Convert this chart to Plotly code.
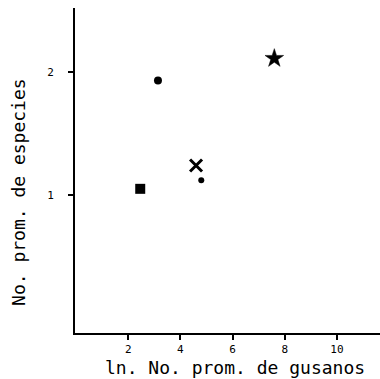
import plotly.graph_objects as go

# Data
x_vals = [3.14, 7.6, 4.6, 4.8, 2.46]
y_vals = [1.93, 2.11, 1.24, 1.12, 1.05]
x_ticks = [2, 4, 6, 8, 10]
x_tick_labels = ["2", "4", "6", "8", "10"]
y_ticks = [1, 2]
y_tick_labels = ["1", "2"]
x_title = "ln. No. prom. de gusanos"
y_title = "No. prom. de especies"

# Styles (one per point)
symbols = ["circle", "star", "x-thin-open", "circle", "square"]
sizes = [8, 14, 12, 6, 10]
line_widths = [0, 0.5, 3, 0, 0]

fig = go.Figure()
fig.add_trace(go.Scatter(
    x=x_vals, y=y_vals, mode="markers",
    marker=dict(symbol=symbols, size=sizes, color="#000000", opacity=1,
                line=dict(color="#000000", width=line_widths)),
    showlegend=False,
))

fig.update_layout(
    template="none",
    width=380, height=379,
    margin=dict(l=75, r=0, t=8, b=46),
    paper_bgcolor="white", plot_bgcolor="white",
    font=dict(family="DejaVu Sans Mono", color="black"),
    xaxis=dict(range=[-0.04, 11.65], tickvals=x_ticks, ticktext=x_tick_labels,
               showgrid=False, zeroline=False, showline=True, linecolor="black",
               linewidth=2, ticks="outside", ticklen=5, tickwidth=1.5,
               tickcolor="black", tickfont=dict(size=11), ticklabelstandoff=0),
    yaxis=dict(range=[-0.122, 2.52], tickvals=y_ticks, ticktext=y_tick_labels,
               showgrid=False, zeroline=False, showline=True, linecolor="black",
               linewidth=2, ticks="outside", ticklen=5, tickwidth=1.5,
               tickcolor="black", tickfont=dict(size=11), ticklabelstandoff=12),
    annotations=[
        dict(text=x_title, xref="paper", yref="paper", x=0.525, y=-0.106,
             xanchor="center", yanchor="middle", showarrow=False,
             font=dict(size=18, family="DejaVu Sans Mono")),
        dict(text=y_title, xref="paper", yref="paper", x=-0.1836, y=0.434,
             xanchor="center", yanchor="middle", showarrow=False, textangle=-90,
             font=dict(size=18, family="DejaVu Sans Mono")),
    ],
)

fig.write_html("out.html")
